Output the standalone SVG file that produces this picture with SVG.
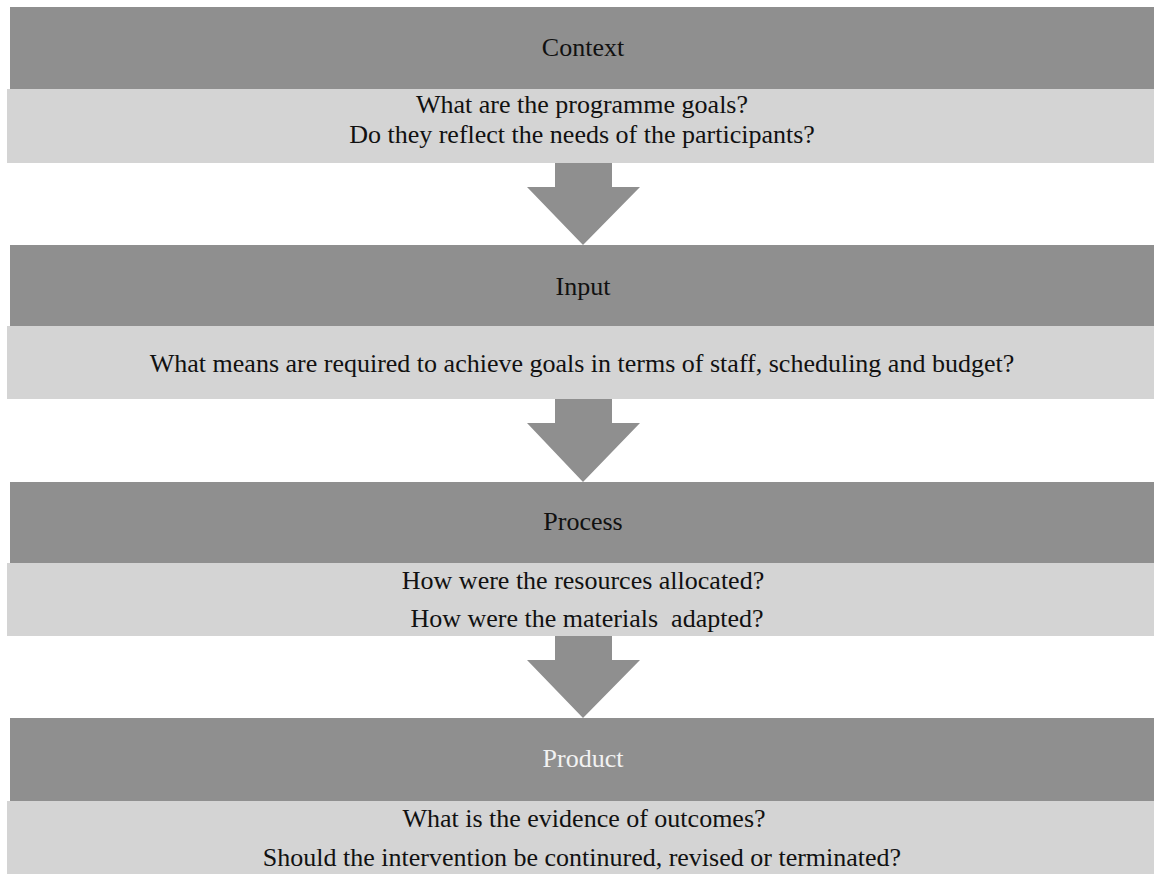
<svg xmlns="http://www.w3.org/2000/svg" width="1154" height="875" viewBox="0 0 1154 875">
<defs>
<style>
.dark{fill:#8f8f8f;}
.light{fill:#d4d4d4;}
.arrow{fill:#8f8f8f;}
text{font-family:'Liberation Serif',serif;font-size:26px;fill:#111;text-anchor:middle;white-space:pre;}
.white{fill:#f2f2f2;}
</style>
</defs>
<rect width="1154" height="875" fill="#ffffff"/>
<g id="context">
<rect class="dark" x="10" y="7" width="1144" height="82"/>
<rect class="light" x="7" y="89" width="1147" height="74"/>
<text x="583" y="56">Context</text>
<text x="582" y="113">What are the programme goals?</text>
<text x="582" y="143">Do they reflect the needs of the participants?</text>
</g>
<g id="input">
<rect class="dark" x="10" y="245" width="1144" height="81"/>
<rect class="light" x="7" y="326" width="1147" height="73"/>
<text x="583" y="295">Input</text>
<text x="582" y="372">What means are required to achieve goals in terms of staff, scheduling and budget?</text>
</g>
<g id="process">
<rect class="dark" x="10" y="482" width="1144" height="81"/>
<rect class="light" x="7" y="563" width="1147" height="73"/>
<text x="583" y="530">Process</text>
<text x="583" y="589">How were the resources allocated?</text>
<text x="587" y="627">How were the materials  adapted?</text>
</g>
<g id="product">
<rect class="dark" x="10" y="718" width="1144" height="83"/>
<rect class="light" x="7" y="801" width="1147" height="73"/>
<text class="white" x="583" y="767">Product</text>
<text x="584" y="827">What is the evidence of outcomes?</text>
<text x="582" y="866">Should the intervention be continured, revised or terminated?</text>
</g>
<g id="connectors">
<polygon class="arrow" points="555,163 612,163 612,187 640,187 583,245 527,187 555,187"/>
<polygon class="arrow" points="555,399 612,399 612,423 640,423 583,482 527,423 555,423"/>
<polygon class="arrow" points="555,636 612,636 612,660 640,660 583,718 527,660 555,660"/>
</g>
</svg>
